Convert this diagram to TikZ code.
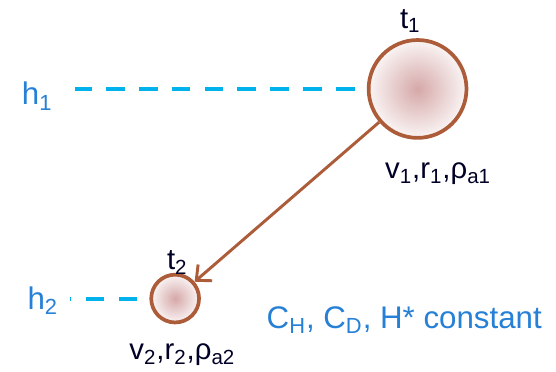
\documentclass[tikz,border=0pt]{standalone}
\usepackage{fontspec}
\setmainfont{Liberation Sans}
\usetikzlibrary{arrows.meta}
\definecolor{ringbrown}{RGB}{172,92,56}
\definecolor{ballpink}{RGB}{214,168,168}
\definecolor{levelcyan}{RGB}{0,178,236}
\definecolor{labelblue}{RGB}{38,128,214}

\begin{document}
\begin{tikzpicture}[
    ball/.style={circle, draw=ringbrown, line width=1.9pt, inner sep=0pt,
      inner color=ballpink, outer color=ballpink!12},
    level/.style={levelcyan, line width=2.1pt, dash pattern=on 9.5pt off 7.3pt},
    path arrow/.style={ringbrown, line width=1.5pt,
      -{Straight Barb[length=6pt, width=11pt, line width=1.5pt]}},
    height label/.style={labelblue, font=\fontsize{16}{18}\selectfont},
    state label/.style={black!85!blue, font=\fontsize{15}{17}\selectfont}]

  \useasboundingbox (0, 0) rectangle (10.0, 6.68);

  % ===== Drop at time t1 =====
  \node[ball, minimum size=1.76cm] (b1) at (7.51, 5.08) {};
  \node[state label] (t1) at (7.38, 6.30) {t\textsubscript{1}};
  \node[state label] (s1) at (7.88, 3.55)
    {v\textsubscript{1},r\textsubscript{1},ρ\textsubscript{a1}};

  % ===== Drop at time t2 =====
  \node[ball, minimum size=0.86cm] (b2) at (3.15, 1.31) {};
  \node[state label] (t2) at (3.19, 1.96) {t\textsubscript{2}};
  \node[state label] (s2) at (3.28, 0.30)
    {v\textsubscript{2},r\textsubscript{2},ρ\textsubscript{a2}};

  % Fall path
  \draw[path arrow] (b1) -- (b2);

  % ===== Heights =====
  \node[height label] (h1) at (0.67, 4.95) {h\textsubscript{1}};
  \node[height label] (h2) at (0.77, 1.28) {h\textsubscript{2}};
  \draw[level] ([xshift=-0.22cm]b1.west) -- ++(-5.02, 0);
  \draw[level] ([xshift=-0.22cm]b2.west) -- ++(-1.2, 0);

  % Constants
  \node[height label] (note) at (7.27, 0.93)
    {C\textsubscript{H}, C\textsubscript{D}, H* constant};

\end{tikzpicture}
\end{document}
